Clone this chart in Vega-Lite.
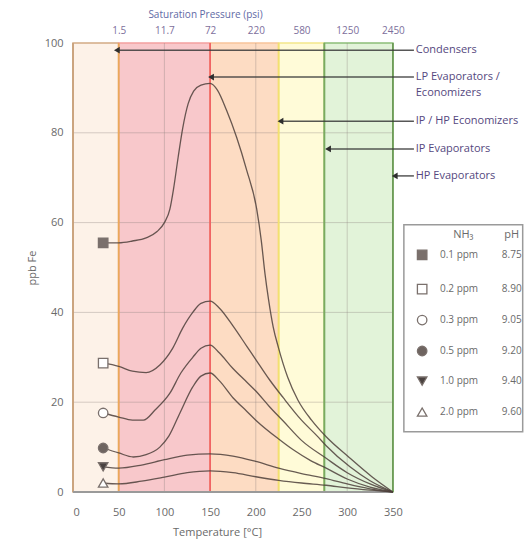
{
  "$schema": "https://vega.github.io/schema/vega-lite/v6.json",
  "autosize": {"type": "none"},
  "padding": {"left": 73, "top": 43, "right": 0, "bottom": 57},
  "width": 457,
  "height": 449,
  "background": "#ffffff",
  "config": {"view": {"stroke": null}, "font": "Open Sans"},
  "datasets": {
    "bands": [
      {"band": "A", "x0": 0, "x1": 50},
      {"band": "B", "x0": 50, "x1": 150},
      {"band": "C", "x0": 150, "x1": 225},
      {"band": "D", "x0": 225, "x1": 275},
      {"band": "E", "x0": 275, "x1": 350}
    ],
    "edges": [
      {"edge": "L", "x": 0},
      {"edge": "a", "x": 50},
      {"edge": "b", "x": 150},
      {"edge": "c", "x": 225},
      {"edge": "d", "x": 275},
      {"edge": "R", "x": 350}
    ],
    "grid": [
      {"x": 100, "x2": 100, "y": 0, "y2": 100},
      {"x": 200, "x2": 200, "y": 0, "y2": 100},
      {"x": 300, "x2": 300, "y": 0, "y2": 100},
      {"x": 0, "x2": 350, "y": 20, "y2": 20},
      {"x": 0, "x2": 350, "y": 40, "y2": 40},
      {"x": 0, "x2": 350, "y": 60, "y2": 60},
      {"x": 0, "x2": 350, "y": 80, "y2": 80}
    ],
    "frame": [{"x0": 0, "x1": 350, "y0": 0}],
    "legendBox": [{"x0": 362, "x1": 492, "y0": 13.4, "y1": 59.5}],
    "arrows": [
      {"target": "Condensers", "tip": 48, "y": 98.4},
      {"target": "LP Evaporators / Economizers", "tip": 151, "y": 92.4},
      {"target": "IP / HP Economizers", "tip": 227, "y": 82.6},
      {"target": "IP Evaporators", "tip": 279, "y": 76.4},
      {"target": "HP Evaporators", "tip": 352, "y": 70.4}
    ],
    "notes": [
      {"text": "Condensers", "y": 98.4},
      {"text": "LP Evaporators /", "y": 92.4},
      {"text": "Economizers", "y": 88.9},
      {"text": "IP / HP Economizers", "y": 82.6},
      {"text": "IP Evaporators", "y": 76.4},
      {"text": "HP Evaporators", "y": 70.4}
    ],
    "curves": [
      {"series": "0.1 ppm", "temp": 33, "ppb": 55.5}, {"series": "0.1 ppm", "temp": 50, "ppb": 55.5},
      {"series": "0.1 ppm", "temp": 65, "ppb": 55.9}, {"series": "0.1 ppm", "temp": 80, "ppb": 56.6},
      {"series": "0.1 ppm", "temp": 92, "ppb": 58}, {"series": "0.1 ppm", "temp": 100, "ppb": 60},
      {"series": "0.1 ppm", "temp": 106, "ppb": 63}, {"series": "0.1 ppm", "temp": 110, "ppb": 67.5},
      {"series": "0.1 ppm", "temp": 115, "ppb": 74.5}, {"series": "0.1 ppm", "temp": 120, "ppb": 81},
      {"series": "0.1 ppm", "temp": 126, "ppb": 86.5}, {"series": "0.1 ppm", "temp": 132, "ppb": 89.3},
      {"series": "0.1 ppm", "temp": 140, "ppb": 90.6}, {"series": "0.1 ppm", "temp": 150, "ppb": 91},
      {"series": "0.1 ppm", "temp": 158, "ppb": 89.5}, {"series": "0.1 ppm", "temp": 168, "ppb": 85},
      {"series": "0.1 ppm", "temp": 179, "ppb": 79}, {"series": "0.1 ppm", "temp": 190, "ppb": 71.7},
      {"series": "0.1 ppm", "temp": 201, "ppb": 63}, {"series": "0.1 ppm", "temp": 206, "ppb": 56},
      {"series": "0.1 ppm", "temp": 210, "ppb": 48.7}, {"series": "0.1 ppm", "temp": 214, "ppb": 42.8},
      {"series": "0.1 ppm", "temp": 219, "ppb": 36.8}, {"series": "0.1 ppm", "temp": 225, "ppb": 32},
      {"series": "0.1 ppm", "temp": 235, "ppb": 25.5}, {"series": "0.1 ppm", "temp": 246, "ppb": 20.5},
      {"series": "0.1 ppm", "temp": 261, "ppb": 16}, {"series": "0.1 ppm", "temp": 277, "ppb": 12.3},
      {"series": "0.1 ppm", "temp": 301, "ppb": 7.9}, {"series": "0.1 ppm", "temp": 327, "ppb": 3.4},
      {"series": "0.1 ppm", "temp": 350, "ppb": 0},

      {"series": "0.2 ppm", "temp": 33, "ppb": 28.7}, {"series": "0.2 ppm", "temp": 50, "ppb": 28},
      {"series": "0.2 ppm", "temp": 65, "ppb": 26.9}, {"series": "0.2 ppm", "temp": 80, "ppb": 26.6},
      {"series": "0.2 ppm", "temp": 95, "ppb": 28.3}, {"series": "0.2 ppm", "temp": 109, "ppb": 32},
      {"series": "0.2 ppm", "temp": 120, "ppb": 36.5}, {"series": "0.2 ppm", "temp": 131, "ppb": 40},
      {"series": "0.2 ppm", "temp": 140, "ppb": 42}, {"series": "0.2 ppm", "temp": 150, "ppb": 42.5},
      {"series": "0.2 ppm", "temp": 160, "ppb": 41}, {"series": "0.2 ppm", "temp": 175, "ppb": 37},
      {"series": "0.2 ppm", "temp": 190, "ppb": 32.5}, {"series": "0.2 ppm", "temp": 200, "ppb": 29.5},
      {"series": "0.2 ppm", "temp": 215, "ppb": 25}, {"series": "0.2 ppm", "temp": 230, "ppb": 21},
      {"series": "0.2 ppm", "temp": 250, "ppb": 16}, {"series": "0.2 ppm", "temp": 267, "ppb": 12.5},
      {"series": "0.2 ppm", "temp": 277, "ppb": 10.3}, {"series": "0.2 ppm", "temp": 303, "ppb": 5.6},
      {"series": "0.2 ppm", "temp": 325, "ppb": 2.5}, {"series": "0.2 ppm", "temp": 350, "ppb": 0},

      {"series": "0.3 ppm", "temp": 33, "ppb": 17.6}, {"series": "0.3 ppm", "temp": 50, "ppb": 16.7},
      {"series": "0.3 ppm", "temp": 65, "ppb": 16}, {"series": "0.3 ppm", "temp": 77, "ppb": 16},
      {"series": "0.3 ppm", "temp": 90, "ppb": 18.3}, {"series": "0.3 ppm", "temp": 106, "ppb": 22},
      {"series": "0.3 ppm", "temp": 118, "ppb": 26.5}, {"series": "0.3 ppm", "temp": 131, "ppb": 30},
      {"series": "0.3 ppm", "temp": 140, "ppb": 32}, {"series": "0.3 ppm", "temp": 150, "ppb": 32.7},
      {"series": "0.3 ppm", "temp": 160, "ppb": 31}, {"series": "0.3 ppm", "temp": 175, "ppb": 27.5},
      {"series": "0.3 ppm", "temp": 190, "ppb": 24.5}, {"series": "0.3 ppm", "temp": 200, "ppb": 22.5},
      {"series": "0.3 ppm", "temp": 215, "ppb": 19}, {"series": "0.3 ppm", "temp": 230, "ppb": 15.8},
      {"series": "0.3 ppm", "temp": 250, "ppb": 11.5}, {"series": "0.3 ppm", "temp": 277, "ppb": 7.5},
      {"series": "0.3 ppm", "temp": 300, "ppb": 4.3}, {"series": "0.3 ppm", "temp": 325, "ppb": 1.8},
      {"series": "0.3 ppm", "temp": 350, "ppb": 0},

      {"series": "0.5 ppm", "temp": 33, "ppb": 9.8}, {"series": "0.5 ppm", "temp": 50, "ppb": 8.7},
      {"series": "0.5 ppm", "temp": 66, "ppb": 7.8}, {"series": "0.5 ppm", "temp": 80, "ppb": 8.3},
      {"series": "0.5 ppm", "temp": 95, "ppb": 10}, {"series": "0.5 ppm", "temp": 105, "ppb": 12.5},
      {"series": "0.5 ppm", "temp": 117, "ppb": 17.6}, {"series": "0.5 ppm", "temp": 131, "ppb": 23.4},
      {"series": "0.5 ppm", "temp": 140, "ppb": 25.8}, {"series": "0.5 ppm", "temp": 150, "ppb": 26.5},
      {"series": "0.5 ppm", "temp": 160, "ppb": 24.8}, {"series": "0.5 ppm", "temp": 175, "ppb": 21},
      {"series": "0.5 ppm", "temp": 190, "ppb": 18}, {"series": "0.5 ppm", "temp": 200, "ppb": 16},
      {"series": "0.5 ppm", "temp": 225, "ppb": 11.8}, {"series": "0.5 ppm", "temp": 241, "ppb": 9.4},
      {"series": "0.5 ppm", "temp": 260, "ppb": 7}, {"series": "0.5 ppm", "temp": 277, "ppb": 5.3},
      {"series": "0.5 ppm", "temp": 300, "ppb": 2.9}, {"series": "0.5 ppm", "temp": 325, "ppb": 1.1},
      {"series": "0.5 ppm", "temp": 350, "ppb": 0},

      {"series": "1.0 ppm", "temp": 33, "ppb": 5.6}, {"series": "1.0 ppm", "temp": 50, "ppb": 5.3},
      {"series": "1.0 ppm", "temp": 75, "ppb": 6}, {"series": "1.0 ppm", "temp": 100, "ppb": 7.2},
      {"series": "1.0 ppm", "temp": 125, "ppb": 8.2}, {"series": "1.0 ppm", "temp": 150, "ppb": 8.5},
      {"series": "1.0 ppm", "temp": 175, "ppb": 8}, {"series": "1.0 ppm", "temp": 200, "ppb": 6.8},
      {"series": "1.0 ppm", "temp": 225, "ppb": 5.3}, {"series": "1.0 ppm", "temp": 250, "ppb": 4.1},
      {"series": "1.0 ppm", "temp": 277, "ppb": 3}, {"series": "1.0 ppm", "temp": 300, "ppb": 1.8},
      {"series": "1.0 ppm", "temp": 325, "ppb": 0.7}, {"series": "1.0 ppm", "temp": 350, "ppb": 0},

      {"series": "2.0 ppm", "temp": 33, "ppb": 2}, {"series": "2.0 ppm", "temp": 50, "ppb": 1.8},
      {"series": "2.0 ppm", "temp": 75, "ppb": 2.4}, {"series": "2.0 ppm", "temp": 100, "ppb": 3.3},
      {"series": "2.0 ppm", "temp": 125, "ppb": 4.3}, {"series": "2.0 ppm", "temp": 150, "ppb": 4.7},
      {"series": "2.0 ppm", "temp": 175, "ppb": 4.3}, {"series": "2.0 ppm", "temp": 200, "ppb": 3.4},
      {"series": "2.0 ppm", "temp": 225, "ppb": 2.6}, {"series": "2.0 ppm", "temp": 250, "ppb": 2},
      {"series": "2.0 ppm", "temp": 277, "ppb": 1.5}, {"series": "2.0 ppm", "temp": 300, "ppb": 0.9},
      {"series": "2.0 ppm", "temp": 325, "ppb": 0.4}, {"series": "2.0 ppm", "temp": 350, "ppb": 0}
    ],
    "markers": [
      {"series": "0.1 ppm", "temp": 33, "ppb": 55.5},
      {"series": "0.2 ppm", "temp": 33, "ppb": 28.7},
      {"series": "0.3 ppm", "temp": 33, "ppb": 17.6},
      {"series": "0.5 ppm", "temp": 33, "ppb": 9.8},
      {"series": "1.0 ppm", "temp": 33, "ppb": 5.6},
      {"series": "2.0 ppm", "temp": 33, "ppb": 2},
      {"series": "0.1 ppm", "temp": 382, "ppb": 52.8},
      {"series": "0.2 ppm", "temp": 382, "ppb": 45.2},
      {"series": "0.3 ppm", "temp": 382, "ppb": 38.3},
      {"series": "0.5 ppm", "temp": 382, "ppb": 31.4},
      {"series": "1.0 ppm", "temp": 382, "ppb": 24.7},
      {"series": "2.0 ppm", "temp": 382, "ppb": 17.8}
    ],
    "legendRows": [
      {"series": "0.1 ppm", "ph": "8.75", "ly": 52.8},
      {"series": "0.2 ppm", "ph": "8.90", "ly": 45.2},
      {"series": "0.3 ppm", "ph": "9.05", "ly": 38.3},
      {"series": "0.5 ppm", "ph": "9.20", "ly": 31.4},
      {"series": "1.0 ppm", "ph": "9.40", "ly": 24.7},
      {"series": "2.0 ppm", "ph": "9.60", "ly": 17.8}
    ],
    "legendHead": [
      {"head": "NH₃", "hx": 427},
      {"head": "pH", "hx": 480}
    ]
  },
  "resolve": {
    "scale": {"fill": "independent", "stroke": "independent", "shape": "independent"},
    "axis": {"x": "independent", "y": "independent"}
  },
  "layer": [
    {
      "data": {"name": "bands"},
      "mark": {"type": "rect", "strokeWidth": 1.5},
      "encoding": {
        "x": {
          "field": "x0", "type": "quantitative",
          "scale": {"domain": [0, 500], "nice": false, "zero": false},
          "axis": {
            "orient": "bottom", "values": [0, 50, 100, 150, 200, 250, 300, 350],
            "domain": false, "ticks": false, "tickSize": 0, "grid": false,
            "labelPadding": 14, "labelFontSize": 11, "labelColor": "#6a6a6a", "labelFont": "Open Sans",
            "title": "Temperature [°C]", "titleFont": "Open Sans", "titleFontSize": 11,
            "titleFontWeight": "normal", "titleColor": "#6a6a6a",
            "titleX": 144, "titleY": 40, "titleBaseline": "middle", "titleAlign": "center"
          }
        },
        "x2": {"field": "x1"},
        "y": {
          "datum": 0, "type": "quantitative",
          "scale": {"domain": [0, 100], "nice": false, "zero": true},
          "axis": {
            "orient": "left",
            "values": [0, 20, 40, 60, 80, 100], "domain": false, "ticks": false, "tickSize": 0,
            "grid": false, "labelPadding": 10, "labelFontSize": 11, "labelColor": "#6a6a6a",
            "labelFont": "Open Sans",
            "title": "ppb Fe", "titleFont": "Open Sans", "titleFontSize": 11,
            "titleFontWeight": "normal", "titleColor": "#6a6a6a",
            "titleX": -41, "titleY": 224.5, "titleAngle": 270, "titleBaseline": "middle", "titleAlign": "center"
          }
        },
        "y2": {"datum": 100},
        "fill": {
          "field": "band", "type": "nominal", "legend": null,
          "scale": {"domain": ["A", "B", "C", "D", "E"], "range": ["#fdf2e8", "#f8c8cb", "#fddcc3", "#fffbd8", "#e2f3d9"]}
        },
        "stroke": {
          "field": "band", "type": "nominal", "legend": null,
          "scale": {"domain": ["A", "B", "C", "D", "E"], "range": ["#d2ab84", "#f3a0a0", "#f8c49a", "#f3e88a", "#8cbf78"]}
        }
      }
    },
    {
      "data": {"name": "grid"},
      "mark": {"type": "rule", "color": "#8a7f7a", "opacity": 0.35, "strokeWidth": 1},
      "encoding": {
        "x": {
          "field": "x", "type": "quantitative",
          "axis": {
            "orient": "top", "values": [50, 100, 150, 200, 250, 300, 350],
            "labelExpr": "datum.value == 50 ? '1.5' : datum.value == 100 ? '11.7' : datum.value == 150 ? '72' : datum.value == 200 ? '220' : datum.value == 250 ? '580' : datum.value == 300 ? '1250' : '2450'",
            "domain": false, "ticks": false, "tickSize": 0, "grid": false,
            "labelPadding": 8, "labelFontSize": 10, "labelColor": "#7d6f9c", "labelFont": "Open Sans",
            "title": "Saturation Pressure (psi)", "titleFont": "Open Sans", "titleFontSize": 10,
            "titleFontWeight": "normal", "titleColor": "#5f6aa5",
            "titleX": 132, "titleY": -29, "titleBaseline": "middle", "titleAlign": "center"
          }
        },
        "x2": {"field": "x2"},
        "y": {"field": "y", "type": "quantitative", "axis": null},
        "y2": {"field": "y2"}
      }
    },
    {
      "data": {"name": "edges"},
      "mark": {"type": "rule", "strokeWidth": 1.8},
      "encoding": {
        "x": {"field": "x", "type": "quantitative", "axis": null},
        "y": {"datum": 0, "type": "quantitative", "axis": null},
        "y2": {"datum": 100},
        "stroke": {
          "field": "edge", "type": "nominal", "legend": null,
          "scale": {"domain": ["L", "a", "b", "c", "d", "R"], "range": ["#c9a27c", "#e9a95a", "#f06464", "#f2e070", "#7aaa60", "#6e9c58"]}
        }
      }
    },
    {
      "data": {"name": "frame"},
      "mark": {"type": "rule", "color": "#9a9a9a", "strokeWidth": 1.8},
      "encoding": {
        "x": {"field": "x0", "type": "quantitative", "axis": null},
        "x2": {"field": "x1"},
        "y": {"field": "y0", "type": "quantitative", "axis": null}
      }
    },
    {
      "data": {"name": "curves"},
      "mark": {"type": "line", "interpolate": "monotone", "color": "#4e403b", "strokeWidth": 1.3, "opacity": 0.85},
      "encoding": {
        "x": {"field": "temp", "type": "quantitative", "axis": null},
        "y": {"field": "ppb", "type": "quantitative", "axis": null},
        "detail": {"field": "series", "type": "nominal"}
      }
    },
    {
      "data": {"name": "arrows"},
      "mark": {"type": "rule", "color": "#3a3a3a", "strokeWidth": 1.5, "opacity": 0.85},
      "encoding": {
        "x": {"field": "tip", "type": "quantitative", "axis": null},
        "x2": {"datum": 373},
        "y": {"field": "y", "type": "quantitative", "axis": null}
      }
    },
    {
      "data": {"name": "arrows"},
      "mark": {"type": "point", "shape": "triangle-left", "filled": true, "color": "#2e2e2e", "size": 45, "opacity": 1},
      "encoding": {
        "x": {"field": "tip", "type": "quantitative", "axis": null},
        "y": {"field": "y", "type": "quantitative", "axis": null}
      }
    },
    {
      "data": {"name": "notes"},
      "mark": {"type": "text", "align": "left", "baseline": "middle", "font": "Open Sans", "fontSize": 11, "color": "#55487e"},
      "encoding": {
        "x": {"datum": 375, "type": "quantitative", "axis": null},
        "y": {"field": "y", "type": "quantitative", "axis": null},
        "text": {"field": "text"}
      }
    },
    {
      "data": {"name": "legendBox"},
      "mark": {"type": "rect", "fill": "#ffffff", "stroke": "#9a9a9a", "strokeWidth": 1.5},
      "encoding": {
        "x": {"field": "x0", "type": "quantitative", "axis": null},
        "x2": {"field": "x1"},
        "y": {"field": "y0", "type": "quantitative", "axis": null},
        "y2": {"field": "y1"}
      }
    },
    {
      "data": {"name": "legendHead"},
      "mark": {"type": "text", "align": "center", "baseline": "middle", "font": "Open Sans", "fontSize": 11, "color": "#6a6a6a"},
      "encoding": {
        "x": {"field": "hx", "type": "quantitative", "axis": null},
        "y": {"datum": 57.2, "type": "quantitative", "axis": null},
        "text": {"field": "head"}
      }
    },
    {
      "data": {"name": "legendRows"},
      "mark": {"type": "text", "align": "left", "baseline": "middle", "font": "Open Sans", "fontSize": 10, "color": "#6a6a6a"},
      "encoding": {
        "x": {"datum": 401.5, "type": "quantitative", "axis": null},
        "y": {"field": "ly", "type": "quantitative", "axis": null},
        "text": {"field": "series"}
      }
    },
    {
      "data": {"name": "legendRows"},
      "mark": {"type": "text", "align": "center", "baseline": "middle", "font": "Open Sans", "fontSize": 10, "color": "#6a6a6a"},
      "encoding": {
        "x": {"datum": 480, "type": "quantitative", "axis": null},
        "y": {"field": "ly", "type": "quantitative", "axis": null},
        "text": {"field": "ph"}
      }
    },
    {
      "data": {"name": "markers"},
      "mark": {"type": "point", "stroke": "#7a706c", "strokeWidth": 1.3, "size": 90, "opacity": 1},
      "encoding": {
        "x": {"field": "temp", "type": "quantitative", "axis": null},
        "y": {"field": "ppb", "type": "quantitative", "axis": null},
        "shape": {
          "field": "series", "type": "nominal", "legend": null,
          "scale": {"domain": ["0.1 ppm", "0.2 ppm", "0.3 ppm", "0.5 ppm", "1.0 ppm", "2.0 ppm"], "range": ["square", "square", "circle", "circle", "triangle-down", "triangle-up"]}
        },
        "fill": {
          "field": "series", "type": "nominal", "legend": null,
          "scale": {"domain": ["0.1 ppm", "0.2 ppm", "0.3 ppm", "0.5 ppm", "1.0 ppm", "2.0 ppm"], "range": ["#7a706c", "#ffffff", "#ffffff", "#6e6460", "#4a4240", "#ffffff"]}
        }
      }
    }
  ]
}
